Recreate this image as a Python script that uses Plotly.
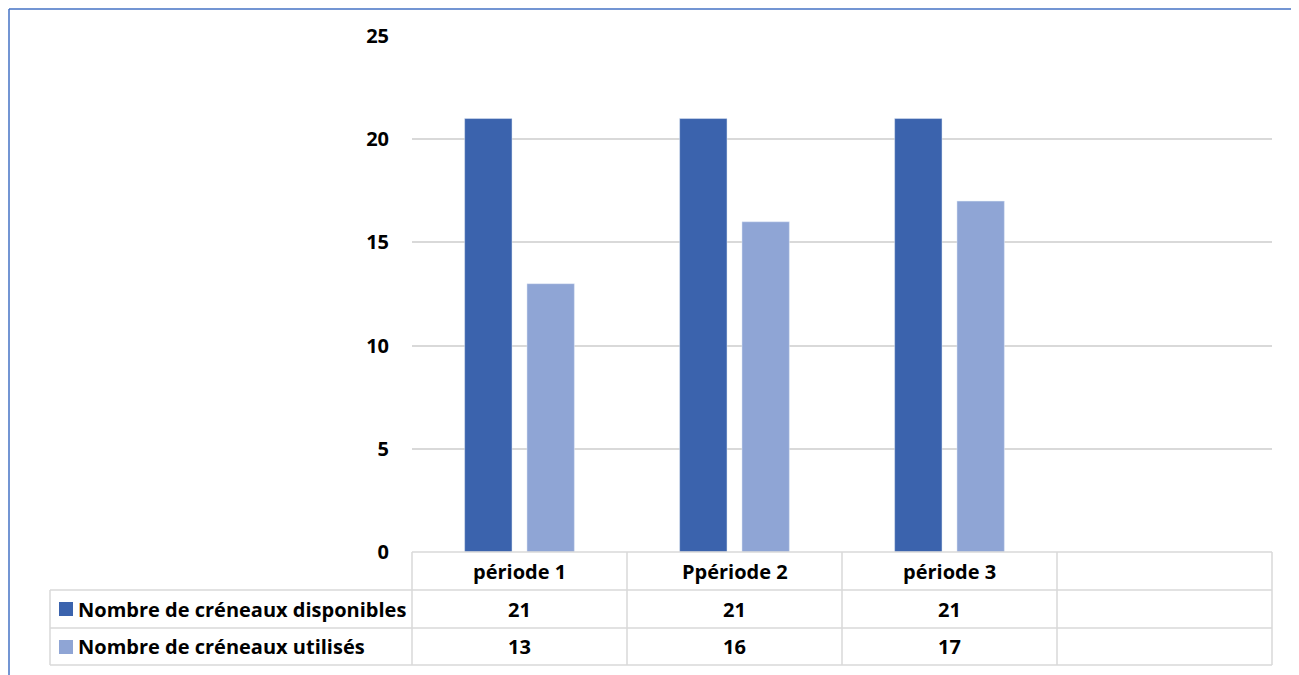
import plotly.graph_objects as go

# data
periodes = ['période 1', 'Ppériode 2', 'période 3']
disponibles = [21, 21, 21]
utilises = [13, 16, 17]
series_names = ['Nombre de créneaux disponibles', 'Nombre de créneaux utilisés']
y_ticks = [0, 5, 10, 15, 20, 25]

dark = '#3B63AD'
light = '#8FA5D5'
grid = '#D9D9D9'
font_family = 'Open Sans, Carlito, Calibri, sans-serif'

# the page body has an 8px margin, so the figure is shrunk by that much
OFF = 8
W, H = 1299 - OFF, 675 - OFF
L, R, T, B = 412 - OFF, 27, 36 - OFF, 123
pw, ph = W - L - R, H - T - B
n_cols = len(periodes) + 1  # empty column at the right like in excel


def px(x):
    # page pixel -> paper
    return (x - OFF - L) / pw


def py(y):
    return (OFF + H - B - y) / ph


fig = go.Figure()
fig.add_trace(go.Bar(x=list(range(len(periodes))), y=disponibles,
                     name=series_names[0], marker_color=dark))
fig.add_trace(go.Bar(x=list(range(len(periodes))), y=utilises,
                     name=series_names[1], marker_color=light))

shapes = []
annotations = []
line = dict(color=grid, width=1.5)
row_h = 38
top = 552
rows_y = [top, top + row_h, top + 2 * row_h, top + 3 * row_h - 1]
tab_left = 50

# table horizontal lines
shapes.append(dict(type='line', xref='paper', yref='paper', x0=0, x1=1,
                   y0=py(rows_y[0]), y1=py(rows_y[0]), line=line))
for yy in rows_y[1:]:
    shapes.append(dict(type='line', xref='paper', yref='paper', x0=px(tab_left), x1=1,
                       y0=py(yy), y1=py(yy), line=line))
# vertical lines
for i in range(n_cols + 1):
    xx = i / n_cols
    shapes.append(dict(type='line', xref='paper', yref='paper', x0=xx, x1=xx,
                       y0=py(rows_y[0]), y1=py(rows_y[-1]), line=line))
shapes.append(dict(type='line', xref='paper', yref='paper', x0=px(tab_left), x1=px(tab_left),
                   y0=py(rows_y[1]), y1=py(rows_y[-1]), line=line))

# outer chart border (blue, left and top)
border = dict(color='#4472C4', width=1.5)
shapes.append(dict(type='line', xref='paper', yref='paper', x0=px(OFF + 1), x1=px(OFF + 1),
                   y0=py(OFF + 1), y1=py(700), line=border))
shapes.append(dict(type='line', xref='paper', yref='paper', x0=px(OFF + 1), x1=px(1320),
                   y0=py(OFF + 1), y1=py(OFF + 1), line=border))

tfont = dict(family=font_family, size=20, color='black', weight='bold')

# header row
for i, p in enumerate(periodes):
    annotations.append(dict(x=i, xref='x', y=py(rows_y[0] + row_h / 2), yref='paper',
                            text=p, showarrow=False, font=tfont,
                            xanchor='center', yanchor='middle'))
# value rows
for r, (vals, name, col) in enumerate([(disponibles, series_names[0], dark),
                                       (utilises, series_names[1], light)]):
    yc = py(rows_y[r + 1] + row_h / 2)
    for i, v in enumerate(vals):
        annotations.append(dict(x=i, xref='x', y=yc, yref='paper', text=str(v),
                                showarrow=False, font=tfont,
                                xanchor='center', yanchor='middle'))
    shapes.append(dict(type='rect', xref='paper', yref='paper',
                       x0=px(59), x1=px(73), y0=py(rows_y[r + 1] + 12), y1=py(rows_y[r + 1] + 26),
                       fillcolor=col, line=dict(width=0)))
    annotations.append(dict(x=px(76), xref='paper', y=yc, yref='paper', text=name,
                            showarrow=False, font=tfont,
                            xanchor='left', yanchor='middle'))

fig.update_layout(
    width=W, height=H,
    margin=dict(l=L, r=R, t=T, b=B, pad=0),
    paper_bgcolor='white', plot_bgcolor='white',
    barmode='group', bargap=0.42, bargroupgap=0.24,
    showlegend=False,
    shapes=shapes, annotations=annotations,
    xaxis=dict(range=[-0.5, n_cols - 0.5], showticklabels=False, showgrid=False,
               zeroline=False, showline=False, fixedrange=True),
    yaxis=dict(range=[0, 25], tickvals=y_ticks, showgrid=True, gridcolor=grid,
               gridwidth=1.5, zeroline=False, showline=False,
               ticklabelstandoff=22,
               tickfont=dict(family=font_family, size=20, color='black', weight='bold')),
)

fig.write_html('out.html')
